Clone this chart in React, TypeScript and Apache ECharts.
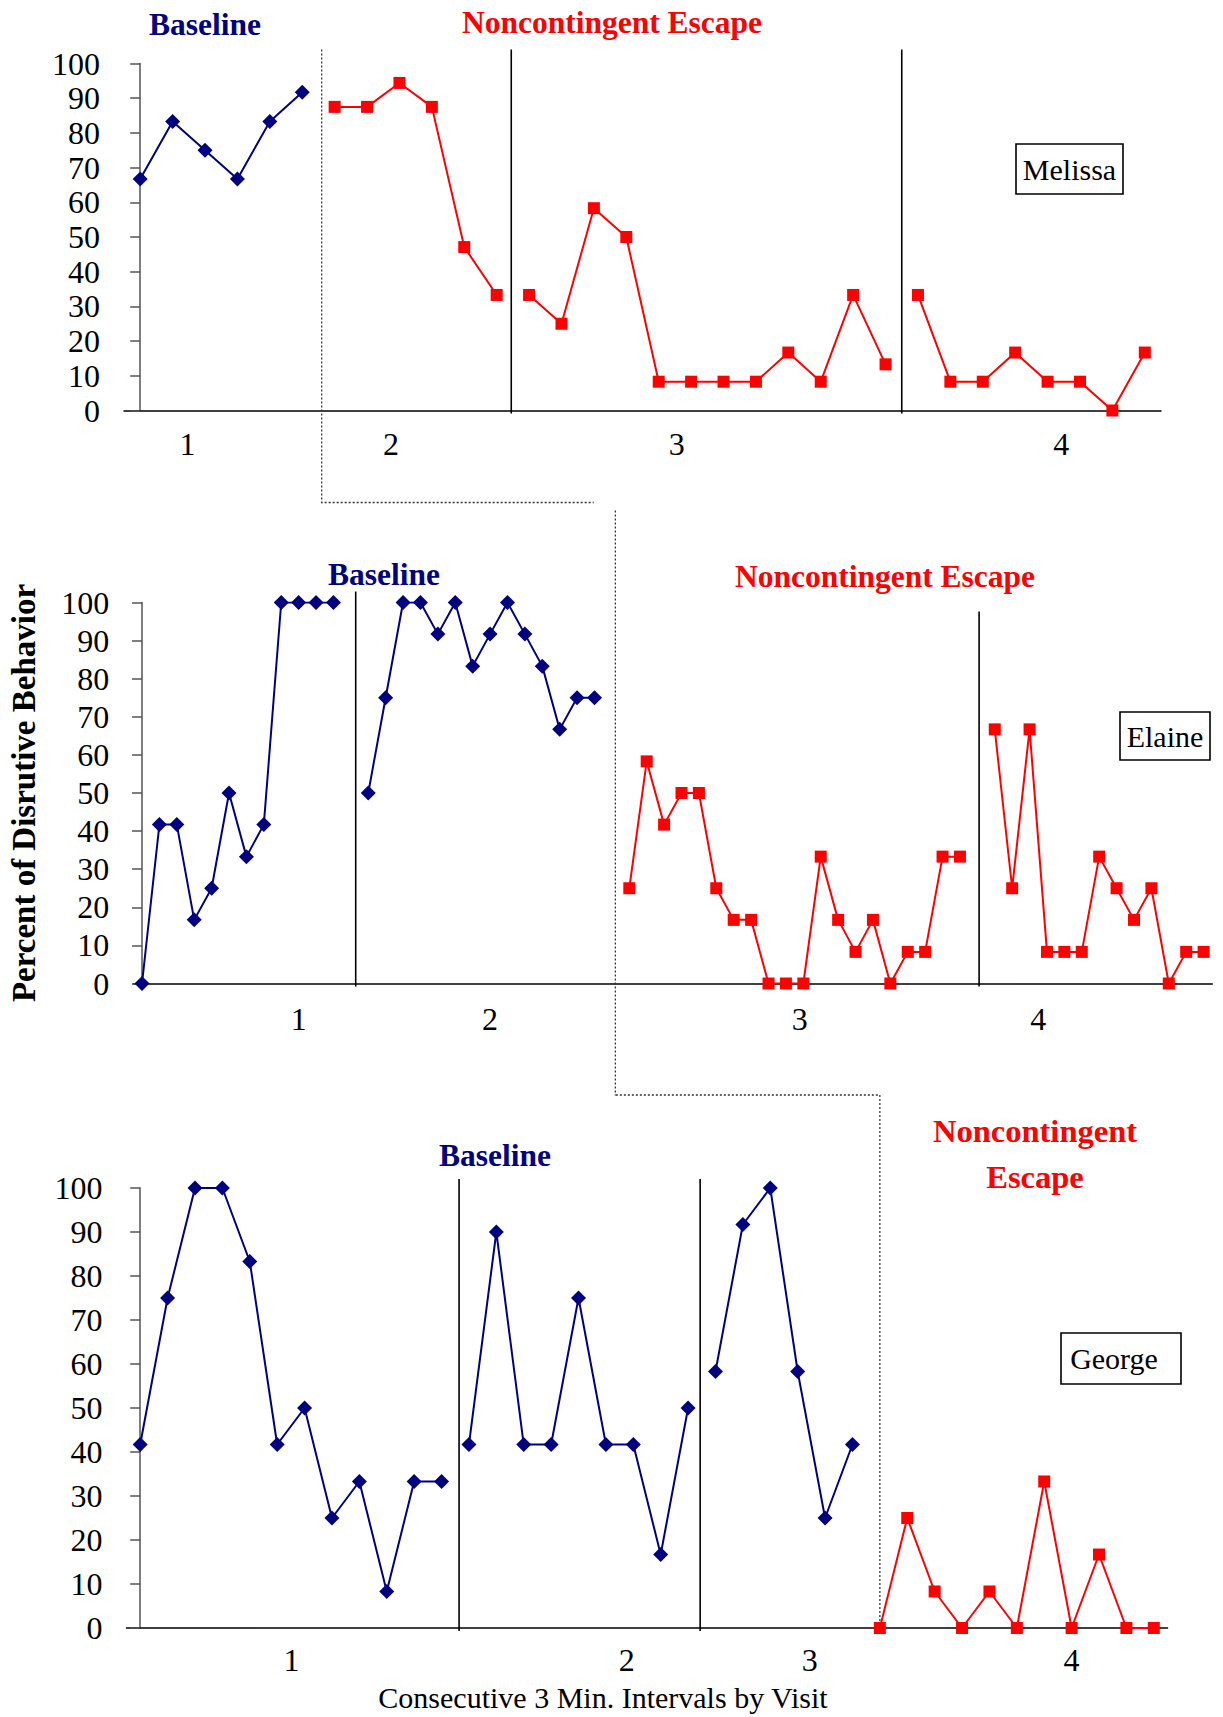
import React, { useEffect, useRef } from "react";
import * as echarts from "echarts";

const NAVY = "#000080";
const RED = "#FF0000";
const FONT = "'Liberation Serif', 'Times New Roman', serif";

// ---- Melissa ----
const melissaBaseline1 = [66.7, 83.3, 75, 66.7, 83.3, 91.7];
const melissaEscape2 = [87.5, 87.5, 94.4, 87.5, 47.1, 33.3];
const melissaEscape3 = [33.3, 25, 58.3, 50, 8.3, 8.3, 8.3, 8.3, 16.7, 8.3, 33.3, 13.3];
const melissaEscape4 = [33.3, 8.3, 8.3, 16.7, 8.3, 8.3, 0, 16.7];

// ---- Elaine ----
const elaineBaseline1 = [0, 41.7, 41.7, 16.7, 25, 50, 33.3, 41.7, 100, 100, 100, 100];
const elaineBaseline2 = [50, 75, 100, 100, 91.7, 100, 83.3, 91.7, 100, 91.7, 83.3, 66.7, 75, 75];
const elaineEscape3 = [25, 58.3, 41.7, 50, 50, 25, 16.7, 16.7, 0, 0, 0, 33.3, 16.7, 8.3, 16.7, 0, 8.3, 8.3, 33.3, 33.3];
const elaineEscape4 = [66.7, 25, 66.7, 8.3, 8.3, 8.3, 33.3, 25, 16.7, 25, 0, 8.3, 8.3];

// ---- George ----
const georgeBaseline1 = [41.7, 75, 100, 100, 83.3, 41.7, 50, 25, 33.3, 8.3, 33.3, 33.3];
const georgeBaseline2 = [41.7, 90, 41.7, 41.7, 75, 41.7, 41.7, 16.7, 50];
const georgeBaseline3 = [58.3, 91.7, 100, 58.3, 25, 41.7];
const georgeEscape4 = [0, 25, 8.3, 0, 8.3, 0, 33.3, 0, 16.7, 0, 0];

const visitLabels = ["1", "2", "3", "4"];

type Seg = { values: number[]; gap: number; phase: "b" | "n" };

const panels = [
  {
    name: "Melissa",
    segs: [
      { values: melissaBaseline1, gap: 0, phase: "b" },
      { values: melissaEscape2, gap: 0, phase: "n" },
      { values: melissaEscape3, gap: 0, phase: "n" },
      { values: melissaEscape4, gap: 0, phase: "n" },
    ] as Seg[],
    phaseLines: [[11.45, 14], [23.5, 14]],
    visitPos: [1.46, 7.74, 16.56, 28.42],
    labelOffset: 33,
    grid: { left: 124, top: 63.5, width: 1037, height: 347 },
  },
  {
    name: "Elaine",
    segs: [
      { values: elaineBaseline1, gap: 0, phase: "b" },
      { values: elaineBaseline2, gap: 1, phase: "b" },
      { values: elaineEscape3, gap: 1, phase: "n" },
      { values: elaineEscape4, gap: 1, phase: "n" },
    ] as Seg[],
    phaseLines: [[12.28, 11], [48.1, -9]],
    visitPos: [9.0, 20.0, 37.8, 51.5],
    labelOffset: 35,
    grid: { left: 133.3, top: 602.5, width: 1079, height: 381 },
  },
  {
    name: "George",
    segs: [
      { values: georgeBaseline1, gap: 0, phase: "b" },
      { values: georgeBaseline2, gap: 0, phase: "b" },
      { values: georgeBaseline3, gap: 0, phase: "b" },
      { values: georgeEscape4, gap: 0, phase: "n" },
    ] as Seg[],
    phaseLines: [[11.64, 9], [20.44, 9]],
    visitPos: [5.52, 17.76, 24.44, 34],
    labelOffset: 32,
    grid: { left: 126.5, top: 1188, width: 1041, height: 440 },
  },
];

function buildOption() {
  const grids: any[] = [];
  const xAxes: any[] = [];
  const yAxes: any[] = [];
  const series: any[] = [];

  panels.forEach((p, k) => {
    grids.push({ ...p.grid, containLabel: false, outerBoundsMode: "none" });
    let idx = 0;
    const starts: number[] = [];
    p.segs.forEach((s) => {
      idx += s.gap;
      starts.push(idx);
      idx += s.values.length;
    });
    const total = idx;
    xAxes.push({
      type: "value",
      gridIndex: k,
      min: -0.5,
      max: total - 0.5,
      axisLine: { show: true, onZero: false, lineStyle: { color: "#000", width: 1.5 } },
      axisTick: { show: false },
      axisLabel: { show: false },
      splitLine: { show: false },
    });
    yAxes.push({
      type: "value",
      gridIndex: k,
      min: 0,
      max: 100,
      interval: 10,
      axisLine: { show: true, lineStyle: { color: "#555", width: 1.5 } },
      axisTick: { show: true, length: 10, lineStyle: { color: "#555", width: 1.5 } },
      axisLabel: { fontSize: 32, fontFamily: FONT, color: "#000", margin: 24 },
      splitLine: { show: false },
    });
    p.segs.forEach((s, i) => {
      const color = s.phase === "b" ? NAVY : RED;
      series.push({
        type: "line",
        xAxisIndex: k,
        yAxisIndex: k,
        data: s.values.map((v, j) => [starts[i] + j, v]),
        symbol: s.phase === "b" ? "diamond" : "rect",
        symbolSize: s.phase === "b" ? 15 : 12,
        lineStyle: { color, width: 2 },
        itemStyle: { color },
        silent: true,
        z: 4,
      });
    });
    // phase change lines
    series.push({
      type: "custom",
      xAxisIndex: k,
      yAxisIndex: k,
      silent: true,
      clip: false,
      z: 2,
      data: p.phaseLines,
      renderItem: (params: any, api: any) => {
        const x = api.value(0);
        const ext = api.value(1);
        const a = api.coord([x, 100]);
        const b = api.coord([x, 0]);
        return {
          type: "line",
          shape: { x1: a[0], y1: a[1] - ext, x2: b[0], y2: b[1] + 3 },
          style: { stroke: "#000", lineWidth: 1.6 },
        };
      },
    });
    // visit labels
    series.push({
      type: "custom",
      xAxisIndex: k,
      yAxisIndex: k,
      silent: true,
      clip: false,
      z: 2,
      data: p.visitPos.map((v) => [v, 0]),
      renderItem: (params: any, api: any) => {
        const pt = api.coord([api.value(0), 0]);
        return {
          type: "text",
          x: pt[0],
          y: pt[1] + p.labelOffset,
          style: {
            text: visitLabels[params.dataIndex],
            fontSize: 32,
            fontFamily: FONT,
            fill: "#000",
            align: "center",
            verticalAlign: "middle",
          },
        };
      },
    });
  });

  const dotted = { stroke: "#333", lineWidth: 1.3, lineDash: [2, 2], fill: null };
  // connectors
  series.push({
    type: "custom",
    xAxisIndex: 0,
    yAxisIndex: 0,
    silent: true,
    clip: false,
    z: 1,
    data: [[5.6, 0]],
    renderItem: (params: any, api: any) => {
      const a = api.coord([api.value(0), 100]);
      const b = api.coord([api.value(0), 0]);
      return {
        type: "polyline",
        shape: { points: [[a[0], a[1] - 14], [b[0], b[1] + 92], [b[0] + 272, b[1] + 92]] },
        style: dotted,
      };
    },
  });
  series.push({
    type: "custom",
    xAxisIndex: 1,
    yAxisIndex: 1,
    silent: true,
    clip: false,
    z: 1,
    data: [[27.2, 0]],
    renderItem: (params: any, api: any) => {
      const a = api.coord([api.value(0), 100]);
      const b = api.coord([api.value(0), 0]);
      return {
        type: "polyline",
        shape: { points: [[a[0], a[1] - 92], [b[0], b[1] + 112]] },
        style: dotted,
      };
    },
  });
  series.push({
    type: "custom",
    xAxisIndex: 2,
    yAxisIndex: 2,
    silent: true,
    clip: false,
    z: 1,
    data: [[27, 0]],
    renderItem: (params: any, api: any) => {
      const a = api.coord([api.value(0), 100]);
      const b = api.coord([api.value(0), 0]);
      return {
        type: "polyline",
        shape: { points: [[a[0] - 264, a[1] - 93], [a[0], a[1] - 93], [b[0], b[1]]] },
        style: dotted,
      };
    },
  });

  const title = (text: string, x: number, y: number, color: string, size = 31.5) => ({
    type: "text",
    x,
    y,
    z: 10,
    style: {
      text,
      fontSize: size,
      fontWeight: "bold",
      fontFamily: FONT,
      fill: color,
      align: "center",
      verticalAlign: "middle",
    },
  });
  const nameBox = (text: string, x: number, y: number, w: number, h: number, dx = 0) => [
    {
      type: "rect",
      shape: { x, y, width: w, height: h },
      style: { fill: "#fff", stroke: "#000", lineWidth: 1.6 },
      z: 10,
    },
    {
      type: "text",
      x: x + w / 2 + dx,
      y: y + h / 2,
      z: 11,
      style: {
        text,
        fontSize: 30,
        fontFamily: FONT,
        fill: "#000",
        align: "center",
        verticalAlign: "middle",
      },
    },
  ];

  const graphic: any[] = [
    title("Baseline", 205, 24, NAVY),
    title("Noncontingent Escape", 612, 22, RED),
    title("Baseline", 384, 574, NAVY),
    title("Noncontingent Escape", 885, 576, RED),
    title("Baseline", 495, 1155, NAVY),
    title("Noncontingent", 1035, 1131, RED, 32.5),
    title("Escape", 1035, 1177, RED, 32.5),
    ...nameBox("Melissa", 1016, 144, 107, 50),
    ...nameBox("Elaine", 1120, 712, 90, 48),
    ...nameBox("George", 1061, 1333, 120, 51, -7),
    {
      type: "text",
      x: 603,
      y: 1697,
      z: 10,
      style: {
        text: "Consecutive 3 Min. Intervals by Visit",
        fontSize: 30,
        fontFamily: FONT,
        fill: "#000",
        align: "center",
        verticalAlign: "middle",
      },
    },
    {
      type: "text",
      x: 24,
      y: 793,
      rotation: Math.PI / 2,
      z: 10,
      style: {
        text: "Percent of Disrutive Behavior",
        fontSize: 33,
        fontWeight: "bold",
        fontFamily: FONT,
        fill: "#000",
        align: "center",
        verticalAlign: "middle",
      },
    },
  ];

  return {
    animation: false,
    backgroundColor: "#fff",
    grid: grids,
    xAxis: xAxes,
    yAxis: yAxes,
    series,
    graphic,
  };
}

export default function App() {
  const ref = useRef<HTMLDivElement>(null);
  useEffect(() => {
    if (!ref.current) return;
    const chart = echarts.init(ref.current, undefined, { renderer: "svg" });
    chart.setOption(buildOption() as any);
    return () => chart.dispose();
  }, []);
  return (
    <div
      ref={ref}
      style={{ position: "absolute", left: 0, top: 0, width: 1223, height: 1717, background: "#fff" }}
    />
  );
}
